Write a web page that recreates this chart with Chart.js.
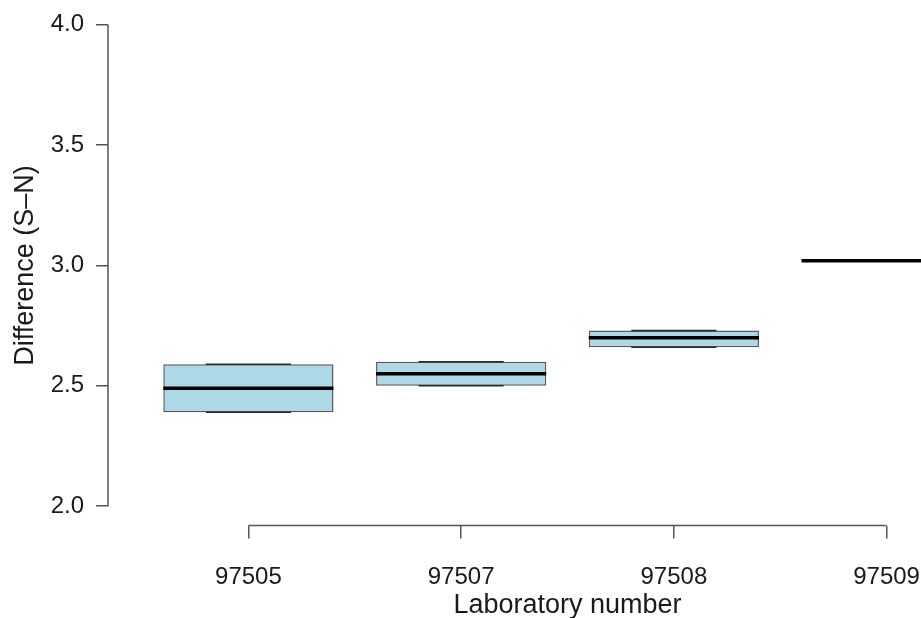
<!DOCTYPE html>
<html>
<head>
<meta charset="utf-8">
<title>Difference (S–N) by laboratory</title>
<script src="https://cdn.jsdelivr.net/npm/chart.js@4"></script>
<style>
  html, body { margin: 0; padding: 0; background: #ffffff; }
  #wrap { width: 921px; height: 618px; overflow: hidden; position: relative; }
  canvas { display: block; }
</style>
</head>
<body>
<div id="wrap"><canvas id="chart" width="1060" height="618"></canvas></div>
<script>
// Laboratories and the five-number summaries of their S–N differences
const labs     = ['97505', '97507', '97508', '97509'];
const lowVals  = [2.39, 2.50, 2.66, 3.02];
const q1Vals   = [2.39, 2.50, 2.66, 3.02];
const medVals  = [2.49, 2.55, 2.70, 3.02];
const q3Vals   = [2.59, 2.60, 2.73, 3.02];
const highVals = [2.59, 2.60, 2.73, 3.02];
const yTicks   = [2.0, 2.5, 3.0, 3.5, 4.0];

const TEXT = '#1a1a1a';
const AXIS = '#555555';
const FONT = 'Liberation Sans, Arial, Helvetica, sans-serif';

// Medians, whisker staples and the base-graphics style axis lines
const boxExtras = {
  id: 'boxExtras',
  afterDatasetsDraw(chart) {
    const { ctx, chartArea } = chart;
    const y = chart.scales.y;
    const meta = chart.getDatasetMeta(0);
    ctx.save();
    ctx.beginPath();
    ctx.rect(chartArea.left, chartArea.top, chartArea.width, chartArea.height);
    ctx.clip();
    meta.data.forEach((bar, i) => {
      const half = bar.width / 2;
      ctx.strokeStyle = '#2a2a2a';
      ctx.lineWidth = 1.5;
      [lowVals[i], highVals[i]].forEach(v => {
        const py = y.getPixelForValue(v);
        ctx.beginPath();
        ctx.moveTo(bar.x - half / 2, py);
        ctx.lineTo(bar.x + half / 2, py);
        ctx.stroke();
      });
      const my = y.getPixelForValue(medVals[i]);
      ctx.strokeStyle = '#000000';
      ctx.lineWidth = 3.5;
      ctx.beginPath();
      ctx.moveTo(bar.x - half, my);
      ctx.lineTo(bar.x + half, my);
      ctx.stroke();
    });
    ctx.restore();
  },
  afterDraw(chart) {
    const { ctx, chartArea } = chart;
    const x = chart.scales.x;
    const y = chart.scales.y;
    ctx.save();
    ctx.strokeStyle = AXIS;
    ctx.lineWidth = 1.5;
    ctx.beginPath();
    ctx.moveTo(chartArea.left, y.getPixelForValue(yTicks[yTicks.length - 1]));
    ctx.lineTo(chartArea.left, y.getPixelForValue(yTicks[0]));
    ctx.moveTo(x.getPixelForValue(1), chartArea.bottom);
    ctx.lineTo(x.getPixelForValue(labs.length), chartArea.bottom);
    ctx.stroke();
    ctx.restore();
  }
};

new Chart(document.getElementById('chart'), {
  type: 'bar',
  data: {
    datasets: [{
      data: labs.map((_, i) => ({ x: i + 1, y: [q1Vals[i], q3Vals[i]] })),
      backgroundColor: '#ADD8E6',
      borderColor: '#5a5a5a',
      borderWidth: 1.5,
      borderSkipped: false,
      barPercentage: 0.8,
      categoryPercentage: 1.0
    }]
  },
  options: {
    responsive: false,
    devicePixelRatio: 1,
    animation: false,
    layout: { padding: { left: 0, right: 33, top: 5.5, bottom: 0 } },
    plugins: { legend: { display: false }, tooltip: { enabled: false } },
    scales: {
      x: {
        type: 'linear',
        min: 0.34,
        max: 4.66,
        offset: false,
        afterBuildTicks: s => { s.ticks = labs.map((_, i) => ({ value: i + 1 })); },
        afterFit: s => { s.height = 92.5; s.paddingLeft = 0; s.paddingRight = 0; },
        border: { display: false },
        grid: { offset: false, drawOnChartArea: false, drawTicks: true, tickLength: 13, color: AXIS, lineWidth: 1.5 },
        ticks: {
          callback: v => labs[v - 1],
          font: { family: FONT, size: 24 },
          color: TEXT,
          padding: 24,
          maxRotation: 0,
          autoSkip: false
        },
        title: {
          display: true,
          text: 'Laboratory number',
          font: { family: FONT, size: 27, lineHeight: 0.9 },
          color: TEXT,
          padding: 0
        }
      },
      y: {
        min: 1.92,
        max: 4.08,
        beginAtZero: false,
        afterBuildTicks: s => { s.ticks = yTicks.map(v => ({ value: v })); },
        afterFit: s => { s.width = 108; s.paddingTop = 0; s.paddingBottom = 0; },
        border: { display: false },
        grid: { drawOnChartArea: false, drawTicks: true, tickLength: 12, color: AXIS, lineWidth: 1.5 },
        ticks: {
          callback: v => v.toFixed(1),
          font: { family: FONT, size: 24 },
          color: TEXT,
          padding: 12
        },
        title: {
          display: true,
          text: 'Difference (S–N)',
          font: { family: FONT, size: 27, lineHeight: 0.9 },
          color: TEXT,
          padding: { top: 13, bottom: 0 }
        }
      }
    }
  },
  plugins: [boxExtras]
});
</script>
</body>
</html>
